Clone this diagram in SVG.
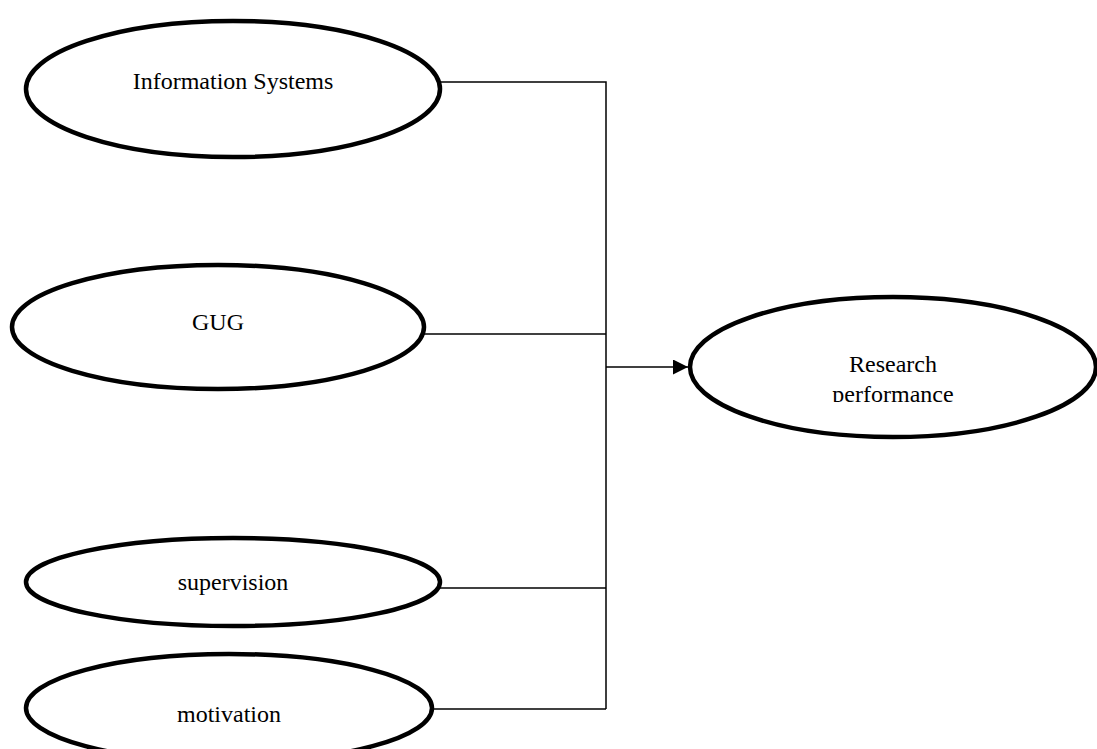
<svg xmlns="http://www.w3.org/2000/svg" width="1097" height="749" viewBox="0 0 1097 749">
<style>
.node ellipse{fill:#fff;stroke:#000;stroke-width:4.5}
.node text{font-family:"Liberation Serif",serif;font-size:24px;fill:#000;text-anchor:middle}
.conn path{fill:none;stroke:#000;stroke-width:1.5}
</style>
<defs>
<marker id="arr" viewBox="0 0 10 10" refX="10" refY="5" markerWidth="15" markerHeight="15" markerUnits="userSpaceOnUse" orient="auto"><path d="M0,0 L10,5 L0,10 Z" fill="#000"/></marker>
<clipPath id="rpclip"><rect x="690" y="290" width="407" height="112"/></clipPath>
</defs>
<rect width="1097" height="749" fill="#fff"/>
<g class="conn">
<path d="M439,82 H606 V709"/>
<path d="M423,334 H606"/>
<path d="M430,588 H606"/>
<path d="M427,709 H606"/>
<path d="M606,367 H688" marker-end="url(#arr)"/>
</g>
<g class="node" id="n-is"><ellipse cx="233" cy="89" rx="207" ry="68"/><text x="233" y="89">Information Systems</text></g>
<g class="node" id="n-gug"><ellipse cx="218" cy="327" rx="206" ry="62"/><text x="218" y="330">GUG</text></g>
<g class="node" id="n-sup"><ellipse cx="233" cy="582" rx="207" ry="44"/><text x="233" y="590">supervision</text></g>
<g class="node" id="n-mot"><ellipse cx="229" cy="708" rx="203" ry="54"/><text x="229" y="722">motivation</text></g>
<g class="node" id="n-rp"><ellipse cx="893" cy="367" rx="203" ry="70"/><text x="893" y="372" clip-path="url(#rpclip)">Research</text><text x="893" y="402" clip-path="url(#rpclip)">performance</text></g>
</svg>
